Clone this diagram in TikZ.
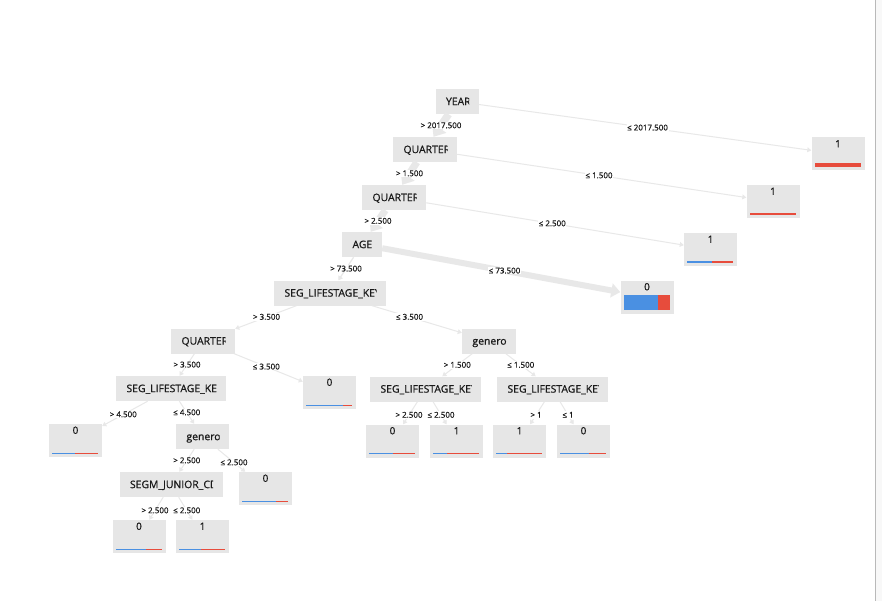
\documentclass[tikz,border=0pt]{standalone}
\usepackage{fontspec}
\setmainfont{Open Sans}
\newfontfamily\nodefont[FakeBold=0.7]{Open Sans}
\newfontfamily\smallfont[FakeBold=0.4]{Open Sans}
\usetikzlibrary{arrows.meta,calc}

\definecolor{boxgray}{RGB}{230,230,230}
\definecolor{edgegray}{RGB}{232,232,232}
\definecolor{barblue}{RGB}{74,144,226}
\definecolor{barred}{RGB}{231,76,60}
\definecolor{ink}{RGB}{25,25,25}
\definecolor{stripgray}{RGB}{248,248,248}
\definecolor{rulegray}{RGB}{185,185,185}

\tikzset{
  splitbox/.style={fill=boxgray, minimum height=25pt, inner sep=0pt},
  leafbox/.style={fill=boxgray, minimum width=53pt, minimum height=33pt, inner sep=0pt},
  splittext/.style={font=\nodefont\fontsize{10.4}{12}\selectfont, text=ink, inner sep=0pt,
    text height=7.3pt, text depth=0pt},
  leaftext/.style={font=\nodefont\fontsize{10}{12}\selectfont, text=ink, inner sep=0pt,
    text height=7.1pt, text depth=0pt},
  link/.style={draw=edgegray, line width=#1,
    -{Triangle[length=3pt 1, width=3pt 1.8]}},
  link/.default=1pt,
  edgelabel/.style={fill=white, font=\smallfont\fontsize{8}{9}\selectfont, text=ink,
    inner sep=0.6pt, text height=5.8pt, text depth=0.4pt},
}

% split node: name, centre, width, label (label clipped to the inner area)
\newcommand{\splitnode}[4]{%
  \node[splitbox, minimum width=#3pt] (#1) at (#2) {};
  \begin{scope}
    \clip ([xshift=10pt]#1.south west) rectangle ([xshift=-9.5pt]#1.north east);
    \node[splittext, anchor=west] (#1-text) at ([xshift=10.5pt]#1.west) {#4};
  \end{scope}}

% leaf node: name, centre, class, share of class 0, bar thickness
\newcommand{\leafnode}[5]{%
  \node[leafbox] (#1) at (#2) {};
  \node[leaftext] (#1-text) at ([yshift=-6.5pt]#1.north) {#3};
  \pgfmathsetmacro{\barx}{3.5+46*#4}
  \pgfmathsetmacro{\bartop}{3.5+#5}
  \fill[barred] ([xshift=\barx pt, yshift=3.5pt]#1.south west)
    rectangle ([xshift=49.5pt, yshift=\bartop pt]#1.south west);
  \ifdim #4pt>0pt
  \fill[barblue] ([xshift=3.5pt, yshift=3.5pt]#1.south west)
    rectangle ([xshift=\barx pt, yshift=\bartop pt]#1.south west);
  \fi}

% edge from a to b with its label at the midpoint of the centre line
\newcommand{\branch}[4]{%
  \draw[link=#3] (#1) -- (#2);
  \node[edgelabel] (#1-#2-label) at ($(#1.center)!0.5!(#2.center)$) {#4};}

\begin{document}
\begin{tikzpicture}[x=1pt, y=-1pt]
  \useasboundingbox (0,0) rectangle (882,601);
  \fill[white] (0,0) rectangle (882,601);
  \fill[stripgray] (876,0) rectangle (882,601);
  \draw[rulegray, line width=1pt] (875.5,0) -- (875.5,601);

  % split nodes
  \splitnode{year}{457,101.5}{43}{YEAR}
  \splitnode{qa}{425,149.5}{64}{QUARTER}
  \splitnode{qb}{394,197.5}{64}{QUARTER}
  \splitnode{age}{362,244.5}{40}{AGE}
  \splitnode{sa}{330,293}{112}{SEG\_LIFESTAGE\_KEY}
  \splitnode{qc}{203,341}{64}{QUARTER}
  \splitnode{ga}{489,341}{54}{genero}
  \splitnode{sb}{171,388.5}{110}{SEG\_LIFESTAGE\_KEY}
  \splitnode{sc}{425.5,389}{111}{SEG\_LIFESTAGE\_KEY}
  \splitnode{sd}{552.5,389}{111}{SEG\_LIFESTAGE\_KEY}
  \splitnode{gb}{202.5,436.5}{53}{genero}
  \splitnode{jr}{171,484.5}{103}{SEGM\_JUNIOR\_CD}

  % leaves
  \leafnode{ly}{838,154}{1}{0}{4}
  \leafnode{lqa}{773,201.5}{1}{0}{2}
  \leafnode{lqb}{710.5,249.5}{1}{0.54}{2}
  \leafnode{lage}{647,297}{0}{0.74}{15}
  \leafnode{lqc}{329.5,392.5}{0}{0.79}{1}
  \leafnode{lsb}{75.5,440.5}{0}{0.49}{1}
  \leafnode{lgb}{265.5,488.5}{0}{0.74}{1}
  \leafnode{lja}{139,536.5}{0}{0.65}{1}
  \leafnode{ljb}{202.5,536.5}{1}{0.48}{1}
  \leafnode{lsca}{392.5,441}{0}{0.51}{1}
  \leafnode{lscb}{456.5,441}{1}{0.30}{1}
  \leafnode{lsda}{519.5,441}{1}{0.23}{1}
  \leafnode{lsdb}{583.5,441}{0}{0.62}{1}

  % branches
  \branch{year}{qa}{7.5pt}{> 2017.500}
  \branch{year}{ly}{1pt}{≤ 2017.500}
  \branch{qa}{qb}{7.2pt}{> 1.500}
  \branch{qa}{lqa}{1pt}{≤ 1.500}
  \branch{qb}{age}{7pt}{> 2.500}
  \branch{qb}{lqb}{1pt}{≤ 2.500}
  \branch{age}{sa}{1.2pt}{> 73.500}
  \branch{age}{lage}{6pt}{≤ 73.500}
  \branch{sa}{qc}{1pt}{> 3.500}
  \branch{sa}{ga}{1pt}{≤ 3.500}
  \branch{qc}{sb}{1pt}{> 3.500}
  \branch{qc}{lqc}{1pt}{≤ 3.500}
  \branch{sb}{lsb}{1pt}{> 4.500}
  \branch{sb}{gb}{1pt}{≤ 4.500}
  \branch{gb}{jr}{1pt}{> 2.500}
  \branch{gb}{lgb}{1pt}{≤ 2.500}
  \branch{jr}{lja}{1pt}{> 2.500}
  \branch{jr}{ljb}{1pt}{≤ 2.500}
  \branch{ga}{sc}{1pt}{> 1.500}
  \branch{ga}{sd}{1pt}{≤ 1.500}
  \branch{sc}{lsca}{1pt}{> 2.500}
  \branch{sc}{lscb}{1pt}{≤ 2.500}
  \branch{sd}{lsda}{1pt}{> 1}
  \branch{sd}{lsdb}{1pt}{≤ 1}
\end{tikzpicture}
\end{document}
